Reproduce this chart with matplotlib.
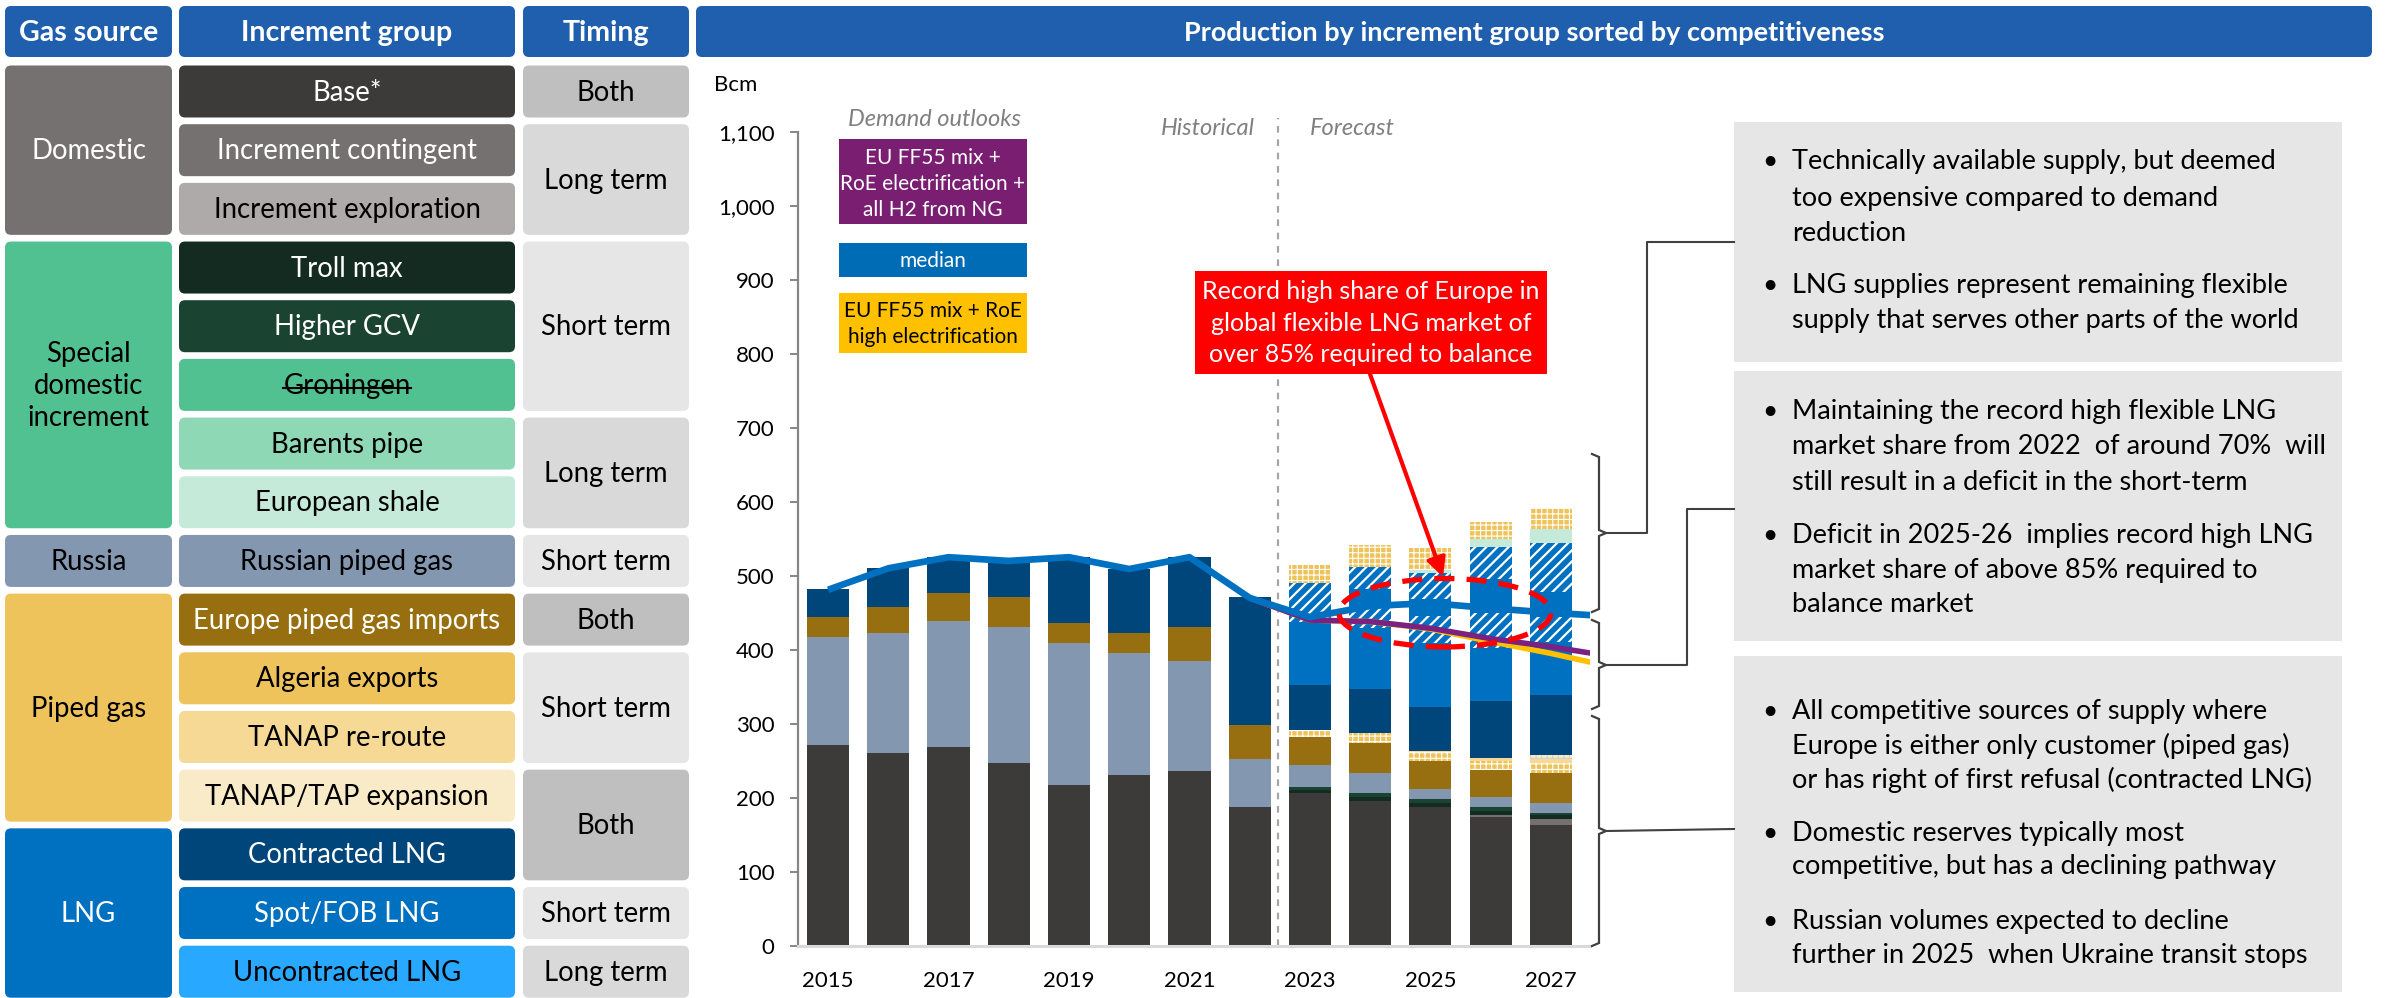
import matplotlib
matplotlib.use("Agg")
import matplotlib.pyplot as plt
from matplotlib.patches import FancyBboxPatch, Rectangle, Ellipse

plt.rcParams['font.family'] = ['Lato', 'DejaVu Sans']
plt.rcParams['hatch.linewidth'] = 2.0

# ---------------- data ----------------
years = [2015, 2016, 2017, 2018, 2019, 2020, 2021, 2022, 2023, 2024, 2025, 2026, 2027]
base = [271, 261, 269, 247, 217, 231, 236, 187, 207, 196, 188, 174, 163]
increment_contingent = [0, 0, 0, 0, 0, 0, 0, 0, 0, 0, 0, 3, 8]
troll_max = [0, 0, 0, 0, 0, 0, 0, 0, 3.5, 5, 5, 5, 5.5]
higher_gcv = [0, 0, 0, 0, 0, 0, 0, 0, 4, 5.5, 5.5, 5.5, 2.5]
russian_piped = [146, 161, 170, 184, 192, 165, 149, 65, 29.5, 27, 13.5, 13.5, 13.5]
europe_piped = [27, 36, 38, 40, 27, 26, 46, 46, 38.5, 41, 38, 36.5, 40.5]
algeria_exports = [0, 0, 0, 0, 0, 0, 0, 0, 9.5, 13, 11.5, 12, 14]
tanap_reroute = [0, 0, 0, 0, 0, 0, 0, 0, 0, 0, 2, 4, 5]
tanap_tap = [0, 0, 0, 0, 0, 0, 0, 0, 0, 0, 0, 0, 5.5]
contracted_lng = [38, 53, 48, 47, 89, 87, 94, 173, 60, 60, 59.5, 77.5, 81]
spot_lng = [0, 0, 0, 0, 0, 0, 0, 0, 85, 82, 86, 71, 72]
spot_lng_flex1 = [0, 0, 0, 0, 0, 0, 0, 0, 53, 27, 36, 47, 34]
spot_lng_extra = [0, 0, 0, 0, 0, 0, 0, 0, 0, 26, 24, 46, 33]
spot_lng_flex2 = [0, 0, 0, 0, 0, 0, 0, 0, 0, 29, 34.5, 44, 67]
european_shale = [0, 0, 0, 0, 0, 0, 0, 0, 0, 0, 4, 10.5, 18.5]
algeria_short_term = [0, 0, 0, 0, 0, 0, 0, 0, 24, 30, 30, 22.5, 29]

line_years = [2015, 2016, 2017, 2018, 2019, 2020, 2021, 2022, 2023, 2024, 2025, 2026, 2027, 2028]
demand_median = [481, 510, 525, 520, 525, 509, 525, 470, 444, 459, 463, 456, 450, 445]
scen_years = [2022, 2023, 2024, 2025, 2026, 2027, 2028]
demand_h2 = [470, 440, 438, 429, 415, 404, 391]
demand_elec = [470, 440, 438, 428, 411, 395, 377]

yticks = list(range(0, 1101, 100))
xtick_years = [2015, 2017, 2019, 2021, 2023, 2025, 2027]

gas_sources = [("Domestic", 0, 2, '#767171', 'white'),
               ("Special\ndomestic\nincrement", 3, 7, '#52C191', 'black'),
               ("Russia", 8, 8, '#8497B0', 'black'),
               ("Piped gas", 9, 12, '#EEC35B', 'black'),
               ("LNG", 13, 15, '#0070C0', 'white')]
increment_groups = [("Base*", '#3C3B3A', 'white'),
                    ("Increment contingent", '#767171', 'white'),
                    ("Increment exploration", '#AEAAAA', 'black'),
                    ("Troll max", '#132B20', 'white'),
                    ("Higher GCV", '#1B4332', 'white'),
                    ("Groningen", '#52C191', 'black'),
                    ("Barents pipe", '#8FD8B6', 'black'),
                    ("European shale", '#C5EAD9', 'black'),
                    ("Russian piped gas", '#8497B0', 'black'),
                    ("Europe piped gas imports", '#976F10', 'white'),
                    ("Algeria exports", '#EEC35B', 'black'),
                    ("TANAP re-route", '#F6D994', 'black'),
                    ("TANAP/TAP expansion", '#FAEBC8', 'black'),
                    ("Contracted LNG", '#00467A', 'white'),
                    ("Spot/FOB LNG", '#0070C0', 'white'),
                    ("Uncontracted LNG", '#29A8FF', 'black')]
timings = [("Both", 0, 0), ("Long term", 1, 2), ("Short term", 3, 5), ("Long term", 6, 7),
           ("Short term", 8, 8), ("Both", 9, 9), ("Short term", 10, 11), ("Both", 12, 13),
           ("Short term", 14, 14), ("Long term", 15, 15)]
timing_colors = {"Both": '#BFBFBF', "Long term": '#D9D9D9', "Short term": '#E7E6E6'}

box_texts = [
    [["Technically available supply, but deemed", "too expensive compared to demand", "reduction"],
     ["LNG supplies represent remaining flexible", "supply that serves other parts of the world"]],
    [["Maintaining the record high flexible LNG", "market share from 2022  of around 70%  will",
      "still result in a deficit in the short-term"],
     ["Deficit in 2025-26  implies record high LNG", "market share of above 85% required to",
      "balance market"]],
    [["All competitive sources of supply where", "Europe is either only customer (piped gas)",
      "or has right of first refusal (contracted LNG)"],
     ["Domestic reserves typically most", "competitive, but has a declining pathway"],
     ["Russian volumes expected to decline", "further in 2025  when Ukraine transit stops"]],
]

# ---------------- figure ----------------
W, H, DPI = 2392, 998, 100
fig = plt.figure(figsize=(W / DPI, H / DPI), dpi=DPI)

ov = fig.add_axes([0, 0, 1, 1])
ov.set_xlim(0, W)
ov.set_ylim(H, 0)
ov.axis('off')
ov.patch.set_visible(False)
ov.set_zorder(5)

ax_top, ax_bot = 131.7, 945.7
ax = fig.add_axes([798 / W, (H - ax_bot) / H, 792 / W, (ax_bot - ax_top) / H])
ax.set_zorder(1)


def rbox(x0, x1, y0, y1, color, r=6):
    p = FancyBboxPatch((x0 + r, y0 + r), (x1 - x0) - 2 * r, (y1 - y0) - 2 * r,
                       boxstyle=f"round,pad={r}", fc=color, ec='none')
    ov.add_patch(p)


# ---------- table ----------
hdr_y0, hdr_y1 = 6, 57
col1 = (5, 172)
col2 = (179, 515)
col3 = (523, 689)
col4 = (696, 2372)
hdr_color = '#1F5FAE'
for (x0, x1), txt in [(col1, "Gas source"), (col2, "Increment group"), (col3, "Timing")]:
    rbox(x0, x1, hdr_y0, hdr_y1, hdr_color)
    ov.text((x0 + x1) / 2, (hdr_y0 + hdr_y1) / 2 + 1, txt, ha='center', va='center',
            color='white', fontsize=20.5, fontweight='bold')
rbox(col4[0], col4[1], hdr_y0, hdr_y1, hdr_color)
ov.text((col4[0] + col4[1]) / 2, (hdr_y0 + hdr_y1) / 2 + 1,
        "Production by increment group sorted by competitiveness",
        ha='center', va='center', color='white', fontsize=19.5, fontweight='bold')


def row_c(i):
    return 91.5 + 58.68 * i


half = 26
TFS = 19.8
for name, r0, r1, col, tc in gas_sources:
    y0, y1 = row_c(r0) - half, row_c(r1) + half
    rbox(col1[0], col1[1], y0, y1, col)
    ov.text((col1[0] + col1[1]) / 2, (y0 + y1) / 2 + 1, name, ha='center', va='center',
            color=tc, fontsize=TFS, linespacing=1.3)

strike_text = None
for i, (name, col, tc) in enumerate(increment_groups):
    y0, y1 = row_c(i) - half, row_c(i) + half
    rbox(col2[0], col2[1], y0, y1, col)
    t = ov.text((col2[0] + col2[1]) / 2, row_c(i) + 1, name, ha='center', va='center',
                color=tc, fontsize=TFS)
    if name == "Groningen":
        strike_text = t

for name, r0, r1 in timings:
    y0, y1 = row_c(r0) - half, row_c(r1) + half
    rbox(col3[0], col3[1], y0, y1, timing_colors[name])
    ov.text((col3[0] + col3[1]) / 2, (y0 + y1) / 2 + 1, name, ha='center', va='center',
            color='black', fontsize=TFS)

# ---------- chart ----------
series = [
    (base, '#3C3B3A', None),
    (increment_contingent, '#767171', None),
    (troll_max, '#132B20', None),
    (higher_gcv, '#1B4332', None),
    (russian_piped, '#8497B0', None),
    (europe_piped, '#976F10', None),
    (algeria_exports, '#EEC35B', 'check'),
    (tanap_reroute, '#F6D994', None),
    (tanap_tap, '#FAEBC8', 'checkgray'),
    (contracted_lng, '#00467A', None),
    (spot_lng, '#0070C0', None),
    (spot_lng_flex1, '#0070C0', 'hatch'),
    (spot_lng_extra, '#0070C0', None),
    (spot_lng_flex2, '#0070C0', 'hatch'),
    (european_shale, '#C5EAD9', None),
    (algeria_short_term, '#EEC35B', 'check'),
]
bottoms = [0.0] * len(years)
BW = 0.70
for vals, col, pat in series:
    kw = dict(width=BW, bottom=bottoms, color=col, linewidth=0, zorder=2)
    hlw = None
    if pat == 'hatch':
        kw.update(hatch='///', edgecolor='white')
        hlw = 1.6
    elif pat == 'check':
        kw.update(hatch='+++', edgecolor='white')
        hlw = 0.8
    elif pat == 'checkgray':
        kw.update(hatch='+++', edgecolor='#D0D0D0')
        hlw = 0.8
    if hlw is not None:
        with plt.rc_context({'hatch.linewidth': hlw}):
            bars = ax.bar(years, vals, **kw)
        for b in bars:
            if hasattr(b, 'set_hatch_linewidth'):
                b.set_hatch_linewidth(hlw)
    else:
        ax.bar(years, vals, **kw)
    bottoms = [b + v for b, v in zip(bottoms, vals)]

ax.plot(scen_years, demand_elec, color='#FFC000', lw=4.0, zorder=4, solid_capstyle='butt')
ax.plot(scen_years, demand_h2, color='#7B2181', lw=4.0, zorder=4, solid_capstyle='butt')
ax.plot(line_years, demand_median, color='#0070C0', lw=4.8, zorder=4, solid_capstyle='butt')

ax.add_patch(Ellipse((2025.24, 450), 3.52, 92.5, fill=False, ec='#FF0000', lw=3.8,
                     ls=(0, (3.8, 2.3)), zorder=6))

ax.plot([2022.47, 2022.47], [0, 1118], color='#A6A6A6', lw=1.6, ls=(0, (3, 3)),
        clip_on=False, zorder=1)

ax.set_xlim(2014.5, 2027.65)
ax.set_ylim(0, 1100)
ax.set_yticks(yticks)
ax.set_yticklabels([f"{v:,}" for v in yticks])
ax.set_xticks(xtick_years)
ax.set_xticklabels([str(y) for y in xtick_years])
for s in ['top', 'right']:
    ax.spines[s].set_visible(False)
ax.spines['left'].set_color('#868686')
ax.spines['left'].set_linewidth(1.6)
ax.spines['bottom'].set_color('#D9D9D9')
ax.spines['bottom'].set_linewidth(2.2)
ax.tick_params(axis='y', length=6, width=1.4, color='#868686', pad=11, labelsize=16)
ax.tick_params(axis='x', length=0, pad=18, labelsize=16)
ax.patch.set_visible(False)

# ---------- chart annotations ----------
ov.text(714, 85, "Bcm", ha='left', va='center', fontsize=16)
ov.text(935, 119, "Demand outlooks", ha='center', va='center', fontsize=17,
        style='italic', color='#808080')
ov.text(1255, 128, "Historical", ha='right', va='center', fontsize=17,
        style='italic', color='#808080')
ov.text(1310, 128, "Forecast", ha='left', va='center', fontsize=17,
        style='italic', color='#808080')

ov.add_patch(Rectangle((839, 139), 188, 85, fc='#7A1E72', ec='none'))
for yy, s in zip([158.3, 184, 210], ["EU FF55 mix +", "RoE electrification +", "all H2 from NG"]):
    ov.text(933, yy, s, ha='center', va='center', color='white', fontsize=15)
ov.add_patch(Rectangle((839, 243), 188, 34, fc='#006CB5', ec='none'))
ov.text(933, 261, "median", ha='center', va='center', color='white', fontsize=15)
ov.add_patch(Rectangle((839, 293), 188, 60, fc='#FFC000', ec='none'))
for yy, s in zip([310.7, 337.3], ["EU FF55 mix + RoE", "high electrification"]):
    ov.text(933, yy, s, ha='center', va='center', color='black', fontsize=15)

ov.add_patch(Rectangle((1195, 271), 352, 103, fc='#FF0000', ec='none'))
for yy, s in zip([291.7, 323.3, 355], ["Record high share of Europe in",
                                       "global flexible LNG market of",
                                       "over 85% required to balance"]):
    ov.text(1371, yy, s, ha='center', va='center', color='white', fontsize=18)
ov.annotate('', xy=(1443, 577), xytext=(1370, 374),
            arrowprops=dict(arrowstyle='-|>', color='#FF0000', lw=3, mutation_scale=28,
                            shrinkA=0, shrinkB=0))

# ---------- brackets & connectors ----------
LC = '#404040'


def bracket(y1, y2, ym):
    xs = [1592, 1599, 1599, 1606, 1599, 1599, 1592]
    ys = [y1, y1 + 3, ym - 3, ym, ym + 3, y2 - 3, y2]
    ov.plot(xs, ys, color=LC, lw=1.6, solid_joinstyle='miter')


bracket(454, 612, 533)
bracket(620, 709, 665)
bracket(716, 946, 831)
ov.plot([1606, 1647, 1647, 1734], [533, 533, 242, 242], color=LC, lw=1.5)
ov.plot([1606, 1687, 1687, 1734], [665, 665, 509, 509], color=LC, lw=1.5)
ov.plot([1606, 1734], [831, 829], color=LC, lw=1.5)

# ---------- right text boxes ----------
boxes = [(122, 362), (371, 641), (656, 992)]
line_ys = [
    [[161.7, 198.3, 233.4], [285.3, 320.4]],
    [[412, 447, 482], [535.5, 570.5, 604]],
    [[711, 746, 779.5], [833, 866.5], [921.4, 955]],
]
for (y0, y1), bullets, ys_list in zip(boxes, box_texts, line_ys):
    ov.add_patch(Rectangle((1734, y0), 2342 - 1734, y1 - y0, fc='#E6E6E6', ec='none'))
    for lines, ys in zip(bullets, ys_list):
        ov.text(1762, ys[0], "\u2022", ha='left', va='center', fontsize=19)
        for s, yy in zip(lines, ys):
            ov.text(1792, yy, s, ha='left', va='center', fontsize=19.5)

# strikethrough on Groningen
fig.canvas.draw()
r = fig.canvas.get_renderer()
bb = strike_text.get_window_extent(r)
inv = ov.transData.inverted()
(xa, ya), (xb, yb) = inv.transform([(bb.x0, bb.y0), (bb.x1, bb.y1)])
ymid = row_c(5) + 3
ov.plot([xa, xb], [ymid, ymid], color='black', lw=1.5)

fig.savefig("out.png", dpi=DPI)
